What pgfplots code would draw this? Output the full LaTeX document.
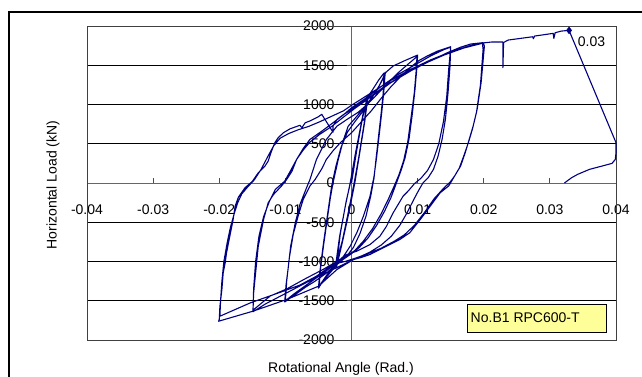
\documentclass[border=0pt]{standalone}
\usepackage{pgfplots}
\pgfplotsset{compat=1.18}
\usepackage{fontspec}
\setmainfont{Liberation Sans}
\definecolor{navy}{RGB}{0,0,128}
\definecolor{lyellow}{RGB}{255,255,153}
\pgfplotstableread{
x y
0 0
0.0008 420
0.0016 800
0.0024 1100
0.0019 750
0.0011 330
0.0004 0
-0.0005 -380
-0.0014 -740
-0.0024 -1050
-0.0018 -680
-0.0009 -280
-0.0002 0
0.0006 380
0.0015 770
0.0025 1110
0.0020 780
0.0012 360
0.0005 0
-0.0005 -420
-0.0015 -800
-0.0023 -1080
-0.0017 -650
-0.0008 -230
0.0000 60
0.0009 500
0.0017 860
0.0024 1090
0.0032 1190
0.0041 1310
0.0049 1400
0.0048 1150
0.0045 900
0.0041 600
0.0037 300
0.0034 60
0.0029 -170
0.0022 -420
0.0013 -640
0.0003 -820
-0.0007 -930
-0.0020 -1020
-0.0033 -1150
-0.0044 -1260
-0.0050 -1340
-0.0048 -1144
-0.0043 -805
-0.0038 -507
-0.0033 -210
-0.0030 -40
-0.0024 200
-0.0016 450
-0.0006 650
0.0005 780
0.0016 900
0.0027 1030
0.0038 1180
0.0046 1300
0.0051 1410
0.0049 1180
0.0046 920
0.0042 620
0.0038 330
0.0034 80
0.0028 -168
0.0018 -423
0.0008 -635
-0.0002 -805
-0.0012 -933
-0.0025 -1040
-0.0038 -1180
-0.0047 -1290
-0.0049 -1330
-0.0047 -1100
-0.0042 -780
-0.0037 -480
-0.0032 -190
-0.0028 0
-0.0020 300
-0.0012 554
-0.0005 724
0.0005 820
0.0018 950
0.0030 1080
0.0042 1240
0.0052 1410
0.0063 1490
0.0079 1553
0.0100 1630
0.0099 1480
0.0096 1190
0.0092 880
0.0087 560
0.0081 320
0.0075 160
0.0068 0
0.0060 -180
0.0050 -360
0.0038 -540
0.0025 -700
0.0012 -820
0.0000 -900
-0.0012 -970
-0.0025 -1060
-0.0040 -1160
-0.0055 -1250
-0.0070 -1330
-0.0085 -1420
-0.0101 -1516
-0.0099 -1300
-0.0096 -1100
-0.0092 -805
-0.0085 -507
-0.0078 -274
-0.0068 -61
-0.0063 40
-0.0053 300
-0.0038 554
-0.0022 724
-0.0007 809
0.0010 900
0.0025 1010
0.0040 1140
0.0055 1270
0.0070 1400
0.0085 1510
0.0099 1610
0.0098 1450
0.0095 1150
0.0090 830
0.0085 520
0.0079 290
0.0072 110
0.0065 -30
0.0056 -200
0.0045 -390
0.0032 -580
0.0018 -740
0.0005 -860
-0.0010 -950
-0.0025 -1040
-0.0045 -1160
-0.0065 -1280
-0.0085 -1400
-0.0100 -1500
-0.0098 -1250
-0.0094 -950
-0.0088 -650
-0.0080 -400
-0.0073 -210
-0.0063 -40
-0.0055 45
-0.0045 180
-0.0038 300
-0.0028 410
-0.0017 512
0.0000 640
0.0015 780
0.0030 920
0.0045 1080
0.0060 1230
0.0075 1360
0.0090 1480
0.0102 1560
0.0115 1620
0.0130 1680
0.0150 1736
0.0149 1490
0.0146 1150
0.0142 810
0.0137 556
0.0131 344
0.0124 174
0.0116 68
0.0108 0
0.0101 -102
0.0093 -230
0.0084 -380
0.0073 -540
0.0060 -680
0.0045 -790
0.0028 -880
0.0010 -950
-0.0008 -1020
-0.0030 -1110
-0.0055 -1210
-0.0080 -1320
-0.0105 -1430
-0.0130 -1540
-0.0149 -1640
-0.0148 -1400
-0.0146 -1230
-0.0141 -805
-0.0133 -465
-0.0126 -252
-0.0118 -147
-0.0106 -40
-0.0098 45
-0.0090 150
-0.0083 300
-0.0073 440
-0.0063 554
-0.0045 660
-0.0028 767
-0.0012 870
0.0000 958
0.0020 1070
0.0045 1230
0.0070 1380
0.0095 1500
0.0120 1620
0.0140 1700
0.0150 1730
0.0147 1450
0.0144 1100
0.0139 780
0.0132 500
0.0124 300
0.0115 160
0.0105 60
0.0095 -10
0.0086 -100
0.0078 -168
0.0063 -380
0.0053 -550
0.0043 -678
0.0028 -784
0.0008 -869
-0.0007 -911
-0.0022 -1000
-0.0045 -1110
-0.0070 -1220
-0.0098 -1350
-0.0123 -1440
-0.0149 -1620
-0.0148 -1350
-0.0145 -1000
-0.0140 -680
-0.0133 -430
-0.0124 -230
-0.0115 -80
-0.0101 23
-0.0092 160
-0.0083 300
-0.0073 420
-0.0063 520
-0.0048 620
-0.0030 720
-0.0012 840
0.0005 950
0.0030 1100
0.0060 1280
0.0090 1430
0.0120 1560
0.0145 1660
0.0165 1730
0.0180 1770
0.0199 1788
0.0201 1745
0.0196 1278
0.0190 938
0.0184 726
0.0178 556
0.0172 386
0.0165 216
0.0159 132
0.0153 47
0.0147 -38
0.0134 -125
0.0119 -296
0.0104 -465
0.0088 -635
0.0073 -720
0.0058 -784
0.0043 -847
0.0028 -911
0.0013 -953
0.0003 -975
-0.0022 -1102
-0.0050 -1315
-0.0098 -1484
-0.0149 -1633
-0.0201 -1761
-0.0200 -1740
-0.0199 -1570
-0.0196 -1357
-0.0194 -1144
-0.0191 -1017
-0.0189 -890
-0.0184 -678
-0.0179 -465
-0.0176 -295
-0.0171 -180
-0.0161 -60
-0.0150 20
-0.0141 130
-0.0131 214
-0.0126 278
-0.0121 405
-0.0116 512
-0.0111 576
-0.0103 640
-0.0093 690
-0.0078 735
-0.0075 705
-0.0070 767
-0.0063 790
-0.0050 845
-0.0045 875
-0.0028 647
-0.0028 724
-0.0022 809
-0.0012 873
0.0000 936
0.0020 1050
0.0050 1230
0.0080 1390
0.0110 1520
0.0140 1630
0.0170 1720
0.0198 1780
0.0199 1700
0.0195 1250
0.0189 900
0.0183 690
0.0177 520
0.0170 350
0.0163 190
0.0156 90
0.0149 10
0.0140 -60
0.0125 -200
0.0110 -380
0.0095 -540
0.0080 -660
0.0065 -740
0.0045 -830
0.0025 -900
0.0005 -960
-0.0010 -1000
-0.0028 -1038
-0.0053 -1187
-0.0078 -1300
-0.0103 -1378
-0.0153 -1527
-0.0199 -1697
-0.0198 -1500
-0.0196 -1250
-0.0193 -1000
-0.0188 -760
-0.0183 -560
-0.0177 -380
-0.0172 -250
-0.0166 -140
-0.0158 -60
-0.0147 40
-0.0137 170
-0.0127 330
-0.0118 470
-0.0108 570
-0.0095 630
-0.0080 680
-0.0065 720
-0.0048 780
-0.0030 850
-0.0012 920
0.0000 990
0.0030 1150
0.0060 1310
0.0090 1450
0.0120 1570
0.0150 1670
0.0180 1750
0.0200 1785
0.0212 1796
0.0229 1796
0.0229 1469
0.0230 1790
0.0237 1821
0.0274 1863
0.0275 1838
0.0277 1872
0.0305 1906
0.0306 1842
0.0308 1914
0.0317 1935
0.0329 1944
0.0400 514
0.0400 471
0.0400 386
0.0399 301
0.0394 250
0.0379 216
0.0360 174
0.0342 110
0.0333 68
0.0326 25
0.0322 0
}\hyst
\begin{document}
\fontsize{14pt}{17pt}\selectfont
\begin{tikzpicture}[x=1pt,y=1pt]
\useasboundingbox (0,0) rectangle (642,377);
\fill[white] (0,0) rectangle (642,377);
\draw[black, line width=2pt] (9,-20) -- (9,365) -- (670,365);
\begin{axis}[
  at={(87pt,37pt)}, anchor=south west,
  scale only axis, width=529pt, height=314pt,
  xmin=-0.04, xmax=0.04, ymin=-2000, ymax=2000,
  axis lines=middle,
  axis line style={black!60, line width=0.8pt, -},
  hide obscured x ticks=false, hide obscured y ticks=false,
  scaled x ticks=false, scaled y ticks=false,
  xtick={-0.04,-0.03,-0.02,-0.01,0,0.01,0.02,0.03,0.04},
  xticklabels={-0.04,-0.03,-0.02,-0.01,0,0.01,0.02,0.03,0.04},
  ytick={-2000,-1500,-1000,-500,0,500,1000,1500,2000},
  yticklabels={-2000,-1500,-1000,-500,0,500,1000,1500,2000},
  x tick label style={yshift=-15pt, font=\fontsize{14pt}{17pt}\selectfont},
  y tick label style={xshift=-10pt, font=\fontsize{14pt}{17pt}\selectfont},
  major tick length=4.5pt,
  x tick style={yshift=2.25pt, black!70, line width=0.8pt},
  y tick style={xshift=-2.25pt, black!70, line width=0.8pt},
  ymajorgrids=true,
  major grid style={black, line width=0.8pt},
  clip=false,
]
\draw[black!75, line width=0.9pt] (rel axis cs:0,0) rectangle (rel axis cs:1,1);
\addplot[navy, line width=1.1pt, line join=round] table {\hyst};
\addplot[navy, only marks, mark=diamond*, mark size=3.5pt] coordinates {(0.0329,1944)};
\node[anchor=west, inner sep=0pt] at (axis cs:0.0342,1800) {0.03};
\draw[black, fill=lyellow, line width=0.8pt] (axis cs:0.0175,-1541) rectangle (axis cs:0.0385,-1898);
\node[anchor=west, inner sep=0pt] at (axis cs:0.0180,-1720) {No.B1 RPC600-T};
\end{axis}
\node at (341,8) {Rotational Angle (Rad.)};
\node[rotate=90] at (53,192) {Horizontal Load (kN)};
\end{tikzpicture}
\end{document}
